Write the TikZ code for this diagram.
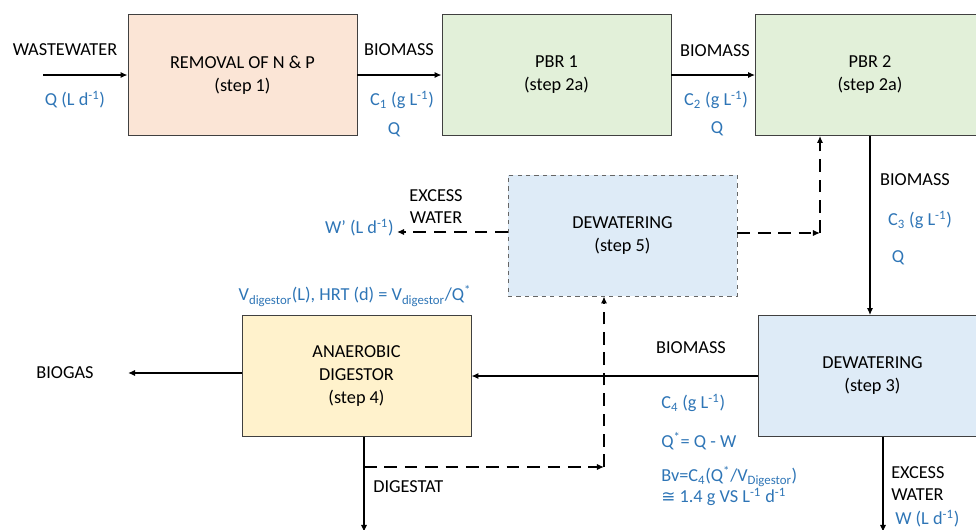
\documentclass[tikz,border=0pt]{standalone}
\usepackage{fontspec}
\setmainfont{Carlito}
\newfontfamily\symfont{DejaVu Sans}
\usetikzlibrary{arrows.meta,positioning,calc}
\definecolor{peach}{HTML}{FBE5D6}
\definecolor{leaf}{HTML}{E2F0D9}
\definecolor{sky}{HTML}{DEEBF7}
\definecolor{cream}{HTML}{FFF2CC}
\definecolor{valblue}{HTML}{2E75B6}
\tikzstyle{stage}=[draw=black!75,line width=0.6pt,minimum width=5.725cm,minimum height=3.025cm,align=center,inner sep=0pt,font=\fontsize{13}{16.4}\selectfont]
\tikzstyle{flow}=[line width=1.4pt,-{Latex[length=5pt,width=4.5pt]}]
\tikzstyle{recycle}=[flow,dash pattern=on 9pt off 5.5pt]
\tikzstyle{lbl}=[inner sep=0pt,align=left,font=\fontsize{13}{15.6}\selectfont]
\tikzstyle{val}=[lbl,text=valblue]

\begin{document}
\begin{tikzpicture}[x=0.025cm,y=-0.025cm]
\useasboundingbox (0,0) rectangle (976,529);
\clip (0,0) rectangle (976,529);

% process stages
\node [stage,fill=peach] (removal) at (242.5,75) {REMOVAL OF N \& P\\(step 1)};
\node [stage,fill=leaf] (pbr1) at (556.5,75) {PBR 1\\(step 2a)};
\node [stage,fill=leaf] (pbr2) at (870,75) {PBR 2\\(step 2a)};
\node [stage,fill=sky,draw=black!60,dashed] (dewat5) at (622.5,235.5) {DEWATERING\\(step 5)};
\node [stage,fill=cream] (digestor) at (356.5,376) {ANAEROBIC\\DIGESTOR\\(step 4)};
\node [stage,fill=sky] (dewat3) at (872.5,376) {DEWATERING\\(step 3)};

% free ends
\coordinate (ww) at (43,75);
\coordinate (gas) at (128,373);
\coordinate (dig) at (364,532);
\coordinate (split) at (364,467);
\coordinate (corner5) at (604,467);
\coordinate (corner2) at (820,233);
\coordinate (ew) at (397,232);
\coordinate (ew3) at (883,532);

% main line
\draw [flow] (ww) -- (removal.west);
\draw [flow] (removal.east) -- (pbr1.west);
\draw [flow] (pbr1.east) -- (pbr2.west);
\draw [flow] (pbr2.south) -- (pbr2.south |- dewat3.north);
\draw [flow] (dewat3.west) -- (digestor.east);
\draw [flow] (digestor.west |- gas) -- (gas);
\draw [flow] (digestor.south -| dig) -- (dig);
\draw [flow] (dewat3.south -| ew3) -- (ew3);

% recycle lines
\draw [recycle] (split) -- (corner5);
\draw [recycle] (corner5) -- (corner5 |- dewat5.south);
\draw [recycle] (dewat5.east |- corner2) -- (corner2);
\draw [recycle] (corner2) -- (corner2 |- pbr2.south);
\draw [recycle] (dewat5.west |- ew) -- (ew);

% labels
\node [lbl] (wwlbl) at (65,50) {WASTEWATER};
\node [val] (qin) at (75,100) {Q (L d\textsuperscript{-1})};
\node [lbl] (bm1) at (399,50) {BIOMASS};
\node [val] (c1) at (402,100) {C\textsubscript{1} (g L\textsuperscript{-1})};
\node [val] (q1) at (394,130) {Q};
\node [lbl] (bm2) at (715,51) {BIOMASS};
\node [val] (c2) at (716,100) {C\textsubscript{2} (g L\textsuperscript{-1})};
\node [val] (q2) at (717,129) {Q};
\node [lbl] (bm3) at (915,180) {BIOMASS};
\node [val] (c3) at (920,220) {C\textsubscript{3} (g L\textsuperscript{-1})};
\node [val] (q3) at (898,258) {Q};
\node [lbl,align=center] (ex5) at (436,207) {EXCESS\\WATER};
\node [val,anchor=east] (w5) at (394,228) {W’ (L d\textsuperscript{-1})};
\node [val] (vdig) at (355,296) {V\textsubscript{digestor}(L), HRT (d) = V\textsubscript{digestor}/Q\textsuperscript{*}};
\node [lbl] (biogas) at (65,373) {BIOGAS};
\node [lbl] (bm4) at (691,348) {BIOMASS};
\node [val,anchor=west] (c4) at (661,403) {C\textsubscript{4} (g L\textsuperscript{-1})};
\node [val,anchor=west] (qstar) at (661,441) {Q\textsuperscript{*}= Q - W};
\node [val,anchor=west,font=\fontsize{13}{15}\selectfont] (bv) at (661,486) {Bv=C\textsubscript{4}(Q\textsuperscript{*}/V\textsubscript{Digestor})\\{\symfont\fontsize{12}{15}\selectfont ≅} 1.4 g VS L\textsuperscript{-1} d\textsuperscript{-1}};
\node [lbl,anchor=west] (digst) at (373,487) {DIGESTAT};
\node [lbl,anchor=west] (ex3) at (891,484) {EXCESS\\WATER};
\node [val,anchor=west] (w3) at (895,519) {W (L d\textsuperscript{-1})};
\end{tikzpicture}
\end{document}
